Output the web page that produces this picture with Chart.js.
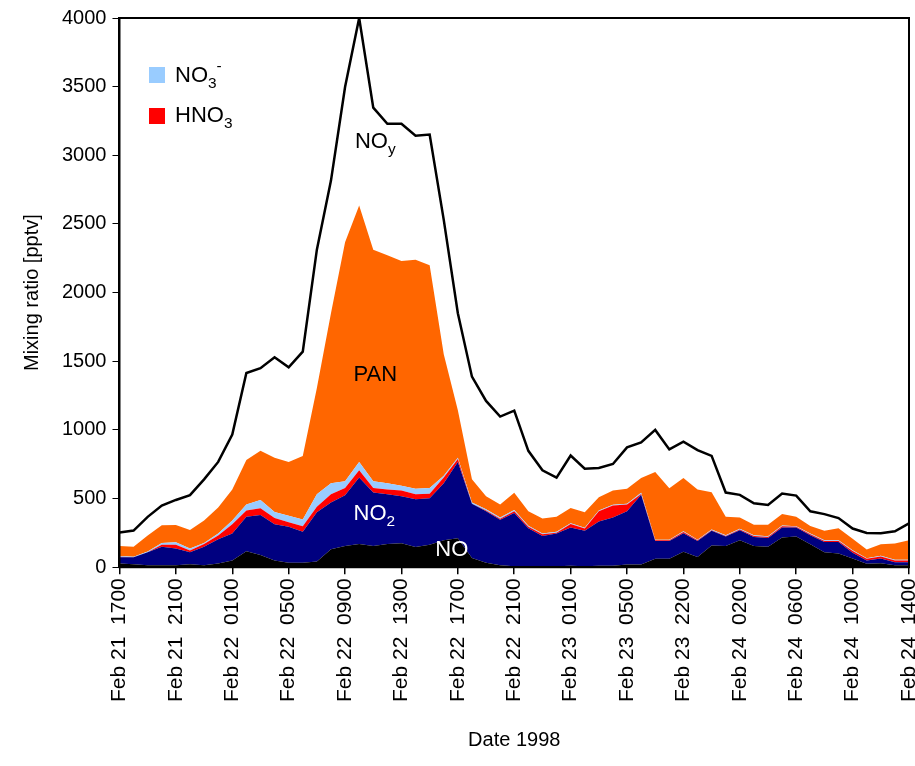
<!DOCTYPE html>
<html>
<head>
<meta charset="utf-8">
<script src="https://cdn.jsdelivr.net/npm/chart.js@4"></script>
<style>
  body { margin: 0; background: #fff; }
</style>
</head>
<body>
<canvas id="chart" width="915" height="766"></canvas>
<script>
// tick labels at every 4th sample (data has a gap between Feb 23 0500 and 2200)
const tickLabels = ['Feb 21  1700', 'Feb 21  2100', 'Feb 22  0100', 'Feb 22  0500', 'Feb 22  0900',
    'Feb 22  1300', 'Feb 22  1700', 'Feb 22  2100', 'Feb 23  0100', 'Feb 23  0500', 'Feb 23  2200',
    'Feb 24  0200', 'Feb 24  0600', 'Feb 24  1000', 'Feb 24  1400'];

const noData = [27, 22, 14, 14, 14, 22, 14, 27, 49, 117, 90, 49, 33, 33, 41, 131, 155, 169, 155, 169,
    174, 147, 163, 196, 212, 68, 33, 14, 7, 7, 7, 7, 10, 7, 10, 10, 20, 20, 61, 61, 113, 74, 159, 154,
    196, 154, 150, 216, 223, 167, 110, 100, 64, 25, 29, 15, 15];
const no2Data = [46, 51, 95, 136, 122, 87, 136, 177, 196, 250, 291, 264, 261, 225, 359, 340, 370, 484,
    389, 362, 343, 348, 340, 416, 555, 395, 375, 332, 388, 277, 221, 238, 279, 258, 323, 353, 387, 507,
    130, 130, 135, 117, 106, 69, 74, 67, 63, 73, 66, 66, 74, 84, 41, 24, 35, 22, 22];
const hno3Data = [3, 0, 0, 13, 27, 13, 19, 27, 68, 47, 49, 46, 33, 41, 41, 60, 52, 54, 33, 35, 41, 36,
    33, 41, 22, 0, 6, 8, 12, 10, 12, 7, 25, 17, 74, 86, 49, 7, 5, 5, 9, 5, 5, 5, 5, 7, 8, 10, 5, 7, 7,
    7, 13, 12, 14, 12, 12];
const no3Data = [6, 3, 5, 14, 19, 14, 8, 14, 27, 43, 60, 44, 48, 49, 90, 81, 49, 60, 49, 46, 35, 40, 41,
    14, 8, 8, 8, 8, 10, 8, 6, 6, 6, 6, 6, 6, 6, 8, 5, 5, 5, 5, 5, 5, 5, 5, 5, 5, 5, 5, 5, 5, 5, 5, 5,
    5, 5];
const panData = [73, 74, 117, 128, 125, 136, 163, 190, 226, 324, 359, 394, 392, 463, 775, 1238, 1741,
    1867, 1687, 1660, 1638, 1668, 1622, 884, 346, 169, 95, 95, 125, 105, 109, 110, 111, 112, 97, 104,
    109, 108, 493, 375, 388, 365, 272, 135, 83, 76, 83, 83, 69, 56, 69, 88, 85, 64, 84, 118, 142];
const noyData = [253, 267, 367, 449, 490, 525, 640, 767, 966, 1415, 1450, 1529, 1456, 1570, 2313, 2816,
    3497, 4000, 3347, 3230, 3230, 3143, 3151, 2530, 1850, 1388, 1211, 1097, 1140, 848, 706, 652, 814,
    718, 723, 752, 873, 909, 1000, 858, 914, 853, 811, 544, 527, 466, 453, 537, 522, 407, 387, 358, 282,
    250, 248, 262, 319];

const labels = noData.map((_, i) => (i % 4 === 0 ? tickLabels[i / 4] : ''));
const FONT = 'Arial, "Liberation Sans", sans-serif';

function area(label, data, color, fill) {
    return {
        label, data, fill,
        backgroundColor: color,
        borderColor: color,
        borderWidth: 0,
        pointRadius: 0,
        tension: 0,
        stack: 'species'
    };
}

// draws text like [['NO', 0], ['3', 1], ['-', -1]] : 0 normal, 1 subscript, -1 superscript
function richText(ctx, parts, x, y, size, color) {
    ctx.save();
    ctx.fillStyle = color;
    ctx.textBaseline = 'middle';
    ctx.textAlign = 'left';
    let cx = x;
    for (const [txt, kind] of parts) {
        const s = kind === 0 ? size : size * 0.7;
        ctx.font = `${s}px ${FONT}`;
        const dy = kind === 1 ? size * 0.35 : (kind === -1 ? -size * 0.4 : 0);
        ctx.fillText(txt, cx, y + dy);
        cx += ctx.measureText(txt).width;
    }
    ctx.restore();
}

const decorations = {
    id: 'decorations',
    afterDraw(chart) {
        const { ctx, chartArea: a, scales: { x, y } } = chart;
        ctx.save();
        ctx.strokeStyle = '#000';
        ctx.lineWidth = 2;
        ctx.strokeRect(a.left, a.top, a.right - a.left, a.bottom - a.top);
        ctx.restore();

        // legend
        ctx.fillStyle = '#99ccff';
        ctx.fillRect(149, 67, 16, 16);
        ctx.fillStyle = '#ff0000';
        ctx.fillRect(149, 108, 16, 16);
        richText(ctx, [['NO', 0], ['3', 1], ['-', -1]], 175, 76, 22, '#000');
        richText(ctx, [['HNO', 0], ['3', 1]], 175, 116, 22, '#000');

        // series names inside the plot
        richText(ctx, [['NO', 0], ['y', 1]], x.getPixelForValue(16.7), y.getPixelForValue(3100), 22, '#000');
        richText(ctx, [['PAN', 0]], x.getPixelForValue(16.6), y.getPixelForValue(1400), 22, '#000');
        richText(ctx, [['NO', 0], ['2', 1]], x.getPixelForValue(16.6), y.getPixelForValue(390), 22, '#fff');
        richText(ctx, [['NO', 0]], x.getPixelForValue(22.4), y.getPixelForValue(125), 22, '#fff');
    }
};

new Chart(document.getElementById('chart'), {
    type: 'line',
    data: {
        labels,
        datasets: [
            area('NO', noData, '#000000', 'origin'),
            area('NO2', no2Data, '#000080', '-1'),
            area('HNO3', hno3Data, '#ff0000', '-1'),
            area('NO3-', no3Data, '#99ccff', '-1'),
            area('PAN', panData, '#ff6600', '-1'),
            {
                label: 'NOy',
                data: noyData,
                fill: false,
                borderColor: '#000',
                borderWidth: 2.5,
                pointRadius: 0,
                tension: 0,
                stack: 'total'
            }
        ]
    },
    options: {
        responsive: false,
        animation: false,
        layout: { padding: { top: 18, right: 6, left: 16, bottom: 10 } },
        plugins: { legend: { display: false }, tooltip: { enabled: false } },
        scales: {
            x: {
                offset: false,
                afterFit: (s) => { s.paddingRight = 0; },
                grid: { drawOnChartArea: false, color: '#000', tickLength: 7, lineWidth: (c) => (c.index % 4 === 0 ? 1.5 : 0) },
                border: { color: '#000', width: 2 },
                ticks: {
                    autoSkip: false,
                    maxRotation: 90,
                    minRotation: 90,
                    color: '#000',
                    font: { size: 21, family: FONT },
                    padding: 4,
                    callback: (v, i) => labels[i]
                },
                title: { display: true, text: 'Date 1998', color: '#000', font: { size: 20, family: FONT }, padding: { top: 22 } }
            },
            y: {
                stacked: true,
                min: 0,
                max: 4000,
                grid: { drawOnChartArea: false, color: '#000', tickLength: 7 },
                border: { color: '#000', width: 2 },
                ticks: { stepSize: 500, color: '#000', font: { size: 20, family: FONT }, padding: 6, callback: (v) => String(v) },
                title: { display: true, text: 'Mixing ratio [pptv]', color: '#000', font: { size: 20, family: FONT }, padding: { bottom: 12 } }
            }
        }
    },
    plugins: [decorations]
});
</script>
</body>
</html>
